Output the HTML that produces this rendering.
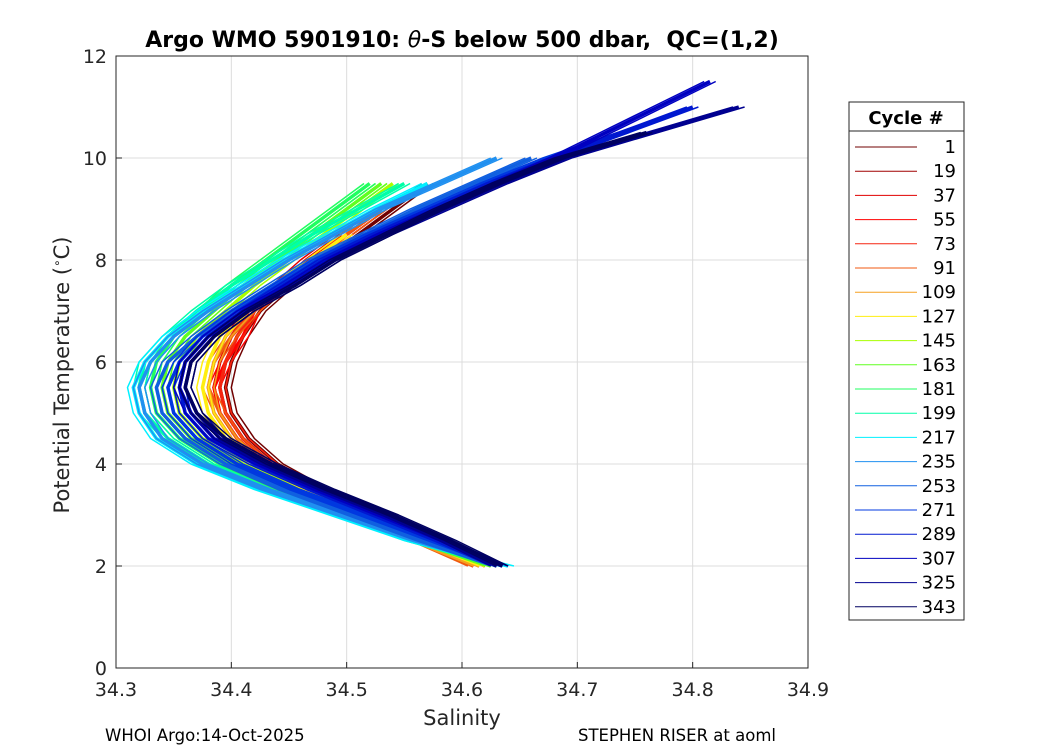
<!DOCTYPE html>
<html><head><meta charset="utf-8"><style>
body{margin:0;background:#fff;}
svg text{font-family:"DejaVu Sans","Liberation Sans",sans-serif;}
</style></head><body>
<svg id="chart" width="1050" height="750" xmlns="http://www.w3.org/2000/svg">
<rect width="1050" height="750" fill="#fff"/>
<g id="grid"></g>
<g id="lines"></g>
<rect x="116" y="56" width="692" height="612" fill="none" stroke="#262626" stroke-width="1"/>
<g id="ticks"></g>
<text x="462" y="47" text-anchor="middle" font-size="22" font-weight="bold" fill="#000">Argo WMO 5901910: <tspan font-style="italic" font-weight="normal">θ</tspan>-S below 500 dbar,&#160; QC=(1,2)</text>
<text x="462" y="725" text-anchor="middle" font-size="21" fill="#262626">Salinity</text>
<text transform="translate(69,375) rotate(-90)" text-anchor="middle" font-size="21" fill="#262626">Potential Temperature (<tspan font-size="12" dy="-8">∘</tspan><tspan dy="8">C)</tspan></text>
<text x="105" y="741" font-size="16.5" fill="#000">WHOI Argo:14-Oct-2025</text>
<text x="578" y="741" font-size="16.5" fill="#000">STEPHEN RISER at aoml</text>
<g id="legend">
<rect x="849" y="102" width="115" height="518" fill="#fff" stroke="#262626" stroke-width="1"/>
<line x1="849" y1="131" x2="964" y2="131" stroke="#262626"/>
<text x="906" y="124" text-anchor="middle" font-size="18" font-weight="bold" fill="#000">Cycle #</text>
</g>
</svg>
<script>
const xTicks=[34.3,34.4,34.5,34.6,34.7,34.8,34.9];
const yTicks=[0,2,4,6,8,10,12];
const cycles=[1,19,37,55,73,91,109,127,145,163,181,199,217,235,253,271,289,307,325,343];
const colors=["#700000","#a00000","#e00000","#ff0000","#f52510","#f05a10","#f5a020","#ffee10","#a8ff00","#60ff20","#20ff60","#00ffa8","#00f0ff","#2090f0","#1060e0","#0038e0","#0018d0","#0000c0","#000090","#000060"];
const tStart=2.0, tStep=0.5;
const s1=[34.62,34.575,34.525,34.48,34.44,34.415,34.40,34.395,34.40,34.41,34.425,34.45,34.48,34.51,34.54,34.57];
const s19=[34.615,34.57,34.52,34.475,34.435,34.41,34.395,34.39,34.395,34.405,34.42,34.445,34.47,34.50,34.53];
const s37=[34.61,34.565,34.515,34.47,34.43,34.405,34.39,34.385,34.39,34.40,34.415,34.44,34.465,34.495];
const s55=[34.62,34.57,34.52,34.47,34.43,34.405,34.39,34.385,34.395,34.41,34.42,34.44,34.47,34.50,34.53];
const s73=[34.615,34.565,34.515,34.47,34.435,34.41,34.395,34.39,34.395,34.405,34.42,34.445,34.475,34.50];
const s91=[34.61,34.56,34.51,34.465,34.43,34.405,34.39,34.38,34.385,34.40,34.42,34.445,34.47,34.50,34.53];
const s109=[34.615,34.56,34.51,34.46,34.425,34.40,34.385,34.38,34.385,34.395,34.415,34.44,34.47,34.50];
const s127=[34.62,34.565,34.51,34.46,34.42,34.395,34.38,34.375,34.38,34.39,34.41,34.44,34.47,34.50];
const s145=[34.625,34.565,34.51,34.455,34.41,34.375,34.355,34.35,34.355,34.37,34.395,34.42,34.45,34.48,34.51,34.54];
const s163=[34.625,34.56,34.505,34.45,34.40,34.365,34.345,34.34,34.345,34.36,34.385,34.41,34.44,34.47,34.50,34.53];
const s181=[34.63,34.56,34.50,34.44,34.39,34.355,34.335,34.33,34.335,34.35,34.375,34.40,34.43,34.46,34.49,34.52];
const s199=[34.635,34.555,34.495,34.43,34.38,34.345,34.325,34.32,34.325,34.345,34.37,34.40,34.435,34.47,34.51,34.55];
const s217=[34.64,34.555,34.49,34.425,34.37,34.335,34.32,34.315,34.325,34.345,34.375,34.41,34.445,34.485,34.525,34.57];
const s235=[34.635,34.56,34.495,34.43,34.375,34.34,34.325,34.32,34.33,34.35,34.38,34.415,34.45,34.49,34.53,34.58,34.63];
const s253=[34.63,34.565,34.505,34.445,34.395,34.36,34.34,34.335,34.345,34.37,34.40,34.435,34.47,34.515,34.56,34.61,34.66];
const s271=[34.635,34.575,34.515,34.455,34.405,34.37,34.35,34.345,34.355,34.375,34.405,34.44,34.475,34.52,34.57,34.62,34.675,34.74];
const s289=[34.63,34.58,34.525,34.47,34.42,34.38,34.36,34.355,34.36,34.38,34.41,34.445,34.48,34.525,34.575,34.625,34.68,34.74,34.80];
const s307=[34.635,34.585,34.53,34.475,34.425,34.385,34.365,34.355,34.36,34.38,34.41,34.45,34.485,34.53,34.58,34.63,34.68,34.725,34.77,34.815];
const s325=[34.63,34.585,34.535,34.48,34.43,34.39,34.37,34.36,34.365,34.385,34.415,34.455,34.49,34.535,34.585,34.635,34.69,34.765,34.84];
const s343=[34.635,34.59,34.54,34.485,34.435,34.395,34.37,34.36,34.365,34.385,34.415,34.455,34.49,34.535,34.58,34.63,34.685,34.76];
const profiles=[s1,s19,s37,s55,s73,s91,s109,s127,s145,s163,s181,s199,s217,s235,s253,s271,s289,s307,s325,s343];

const NS="http://www.w3.org/2000/svg";
const X0=116,X1=808,Y0=668,Y1=56;
function xs(s){return X0+(s-34.3)/0.6*(X1-X0);}
function yt(t){return Y0-(t/12)*(Y0-Y1);}
function mk(tag,attrs,parent){const e=document.createElementNS(NS,tag);for(const k in attrs)e.setAttribute(k,attrs[k]);parent.appendChild(e);return e;}
const grid=document.getElementById('grid'),ticks=document.getElementById('ticks'),lines=document.getElementById('lines'),legend=document.getElementById('legend');
xTicks.forEach(v=>{const x=xs(v);
 const g=mk('line',{x1:x,x2:x,y1:Y1,y2:Y0,stroke:'#dcdcdc','stroke-width':1},grid);
 
 
 mk('line',{x1:x,x2:x,y1:Y0,y2:Y0-6,stroke:'#262626'},ticks);
 const t=mk('text',{x:x,y:Y0+28,'text-anchor':'middle','font-size':19,fill:'#262626'},ticks);t.textContent=v.toFixed(1);
 
 
});
yTicks.forEach(v=>{const y=yt(v);
 const g=mk('line',{x1:X0,x2:X1,y1:y,y2:y,stroke:'#dcdcdc','stroke-width':1},grid);
 
 
 mk('line',{x1:X0,x2:X0+6,y1:y,y2:y,stroke:'#262626'},ticks);
 const t=mk('text',{x:X0-9,y:y+7,'text-anchor':'end','font-size':19,fill:'#262626'},ticks);t.textContent=v;
 
 
});
profiles.forEach((arr,i)=>{
 [[-0.005,1.5],[0.005,1.5],[0,3.5]].forEach(([off,w])=>{
  const dd=arr.map((s,j)=>(j?'L':'M')+xs(s+off).toFixed(1)+','+yt(tStart+j*tStep).toFixed(1)).join(' ');
  const p=mk('path',{d:dd,fill:'none',stroke:colors[i],'stroke-width':w,'stroke-linejoin':'round'},lines);
  
  
 });
 const ly=147+i*24.2;
 const ll=mk('line',{x1:855,x2:917,y1:ly,y2:ly,stroke:colors[i],'stroke-width':1},legend);
 
 
 const lt=mk('text',{x:956,y:ly+6,'text-anchor':'end','font-size':18,fill:'#000'},legend);lt.textContent=cycles[i];
 
 
});
</script>
</body></html>
